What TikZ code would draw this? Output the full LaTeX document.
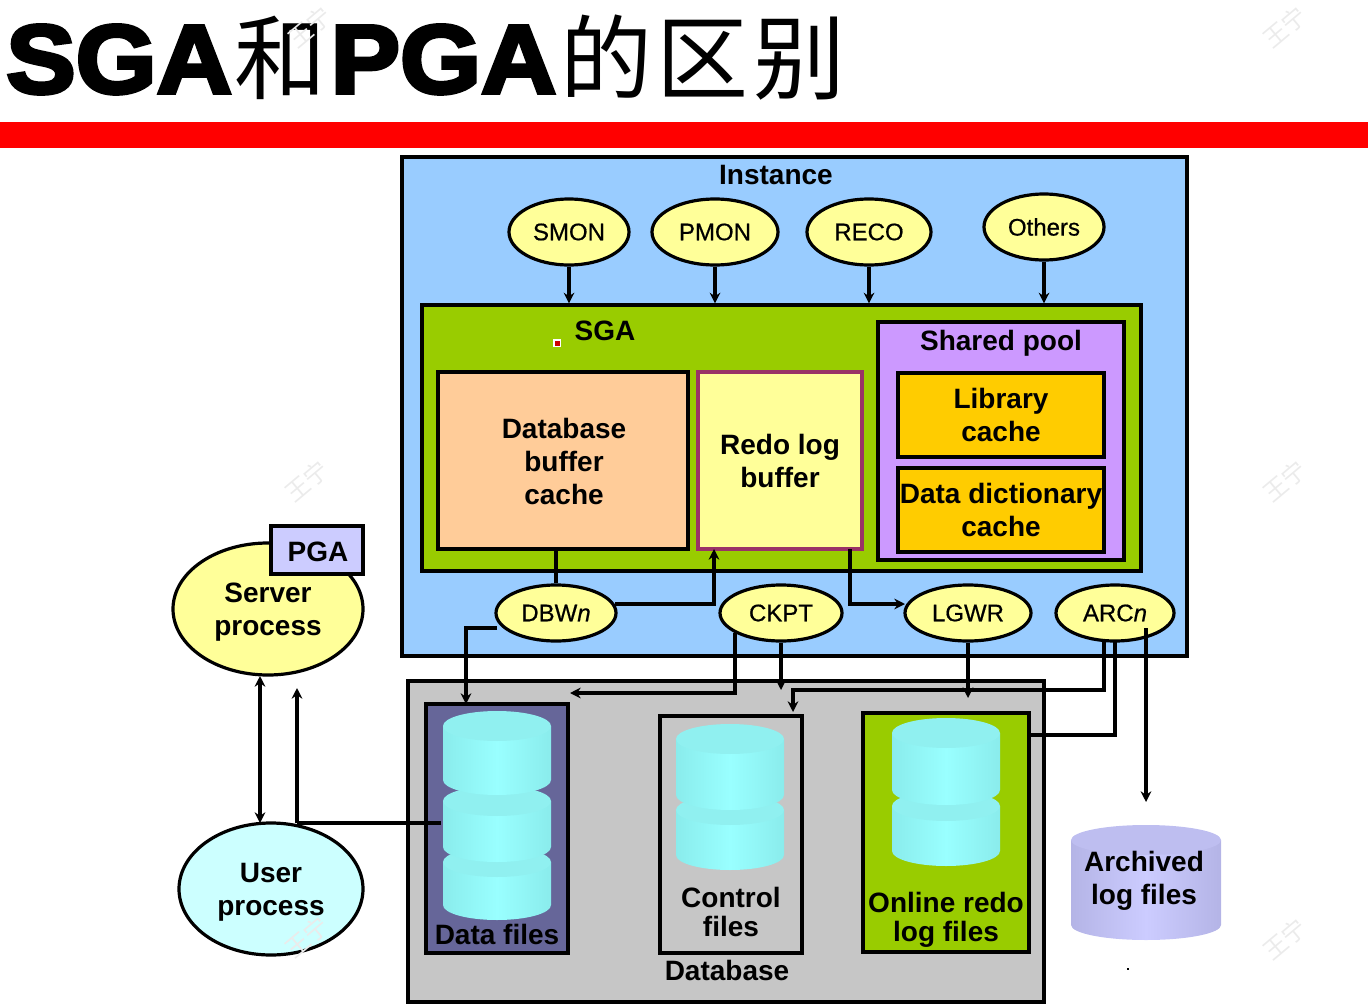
\documentclass[tikz,border=0pt]{standalone}
\usepackage{xcolor}
\usepackage{fontspec}
\usetikzlibrary{arrows.meta,shapes.geometric}
\setmainfont{Liberation Sans}
\newfontfamily\cjk{Noto Sans CJK SC}
\newfontfamily\titlefont{Liberation Sans}[BoldFeatures={FakeBold=4,FakeStretch=1.07}]
\newfontfamily\procfont{Liberation Sans}[FakeBold=0.6]

\definecolor{instblue}{HTML}{99CCFF}
\definecolor{sgagreen}{HTML}{99CC00}
\definecolor{poolviolet}{HTML}{CC99FF}
\definecolor{cacheorange}{HTML}{FFCC00}
\definecolor{bufpeach}{HTML}{FFCC99}
\definecolor{procyellow}{HTML}{FFFF99}
\definecolor{filegrey}{HTML}{C6C6C6}
\definecolor{dataslate}{HTML}{666699}
\definecolor{pgalilac}{HTML}{CCCCFF}
\definecolor{userteal}{HTML}{CCFFFF}
\definecolor{redoedge}{HTML}{993366}
\definecolor{drumlight}{HTML}{99FFFF}
\definecolor{drumedge}{HTML}{8AECEC}
\definecolor{drumtop}{HTML}{90F0F0}
\definecolor{archlight}{HTML}{CCCCFF}
\definecolor{archedge}{HTML}{B4B4E6}
\definecolor{archtop}{HTML}{BEBEF0}

\tikzset{
  panel/.style 2 args={draw=black,line width=2.4pt,rectangle,inner sep=0pt,align=center,
    minimum width=#1*0.75pt,minimum height=#2*0.75pt,font=\bfseries\fontsize{21}{24.75}\selectfont},
  proc/.style 2 args={draw=black,line width=2.4pt,ellipse,inner sep=0pt,align=center,fill=procyellow,
    minimum width=#1*0.75pt,minimum height=#2*0.75pt,font=\procfont\fontsize{18}{22}\selectfont},
  caption/.style={inner sep=0pt,align=center,font=\bfseries\fontsize{21}{24.75}\selectfont},
  tightcaption/.style={caption,font=\bfseries\fontsize{21}{21.5}\selectfont},
  link/.style={draw=black,line width=2.6pt},
  flow/.style={link,-{Stealth[length=8pt,width=8pt]}},
  twoflow/.style={link,{Stealth[length=8pt,width=8pt]}-{Stealth[length=8pt,width=8pt]}}
}

% one drum of a cylinder: centre x, top y, bottom y, half width, colours
\newcommand{\drum}[7]{
  \shade [left color=#6,right color=#6,middle color=#5] (#1-#4,#2) -- (#1-#4,#3) arc [start angle=180,end angle=0,x radius=#4,y radius=15] -- (#1+#4,#2) -- cycle ;
  \fill [#7] (#1,#2) ellipse [x radius=#4,y radius=15] ;
}
\newcommand{\tealdrum}[3]{\drum{#1}{#2}{#3}{54}{drumlight}{drumedge}{drumtop}}

\begin{document}
\begin{tikzpicture}[x=0.75pt,y=0.75pt,yscale=-1,xscale=1]
\useasboundingbox (0,0) rectangle (1368,1006);

% Title
\node (title) [anchor=west,inner sep=0pt] at (6,58) {\titlefont\bfseries\fontsize{73}{80}\selectfont SGA\hspace{2pt}{\cjk\mdseries\fontsize{69}{80}\selectfont 和}\hspace{3pt}PGA\hspace{3pt}{\cjk\mdseries\fontsize{69}{80}\selectfont 的\hspace{3.5pt}区\hspace{3.5pt}别}};
\fill [red] (0,122) rectangle (1368,148);

% Instance
\node (instance) [panel={785}{499},fill=instblue] at (794.5,406.5) {};
\node (instlabel) [caption] at (776,175) {Instance};
\node (sga) [panel={719}{266},fill=sgagreen] at (781.5,438) {};
\node (sgalabel) [caption] at (605,331) {SGA};
\node (buffer) [panel={250}{177},fill=bufpeach] at (563,460.5) {};
\node (buffertext) [caption] at (564,461.5) {Database\\buffer\\cache};
\node (redo) [panel={164}{177},fill=procyellow,draw=redoedge] at (780,460.5) {Redo log\\buffer};
\node (pool) [panel={246}{238},fill=poolviolet] at (1001,441) {};
\node (poollabel) [caption] at (1001,343) {Shared pool};
\node (library) [panel={206}{84},fill=cacheorange] at (1001,415) {Library\\cache};
\node (dictionary) [panel={206}{84},fill=cacheorange] at (1001,510) {Data dictionary\\cache};

% Background processes
\node (smon) [proc={120}{66}] at (569,232) {SMON};
\node (pmon) [proc={126}{66}] at (715,232) {PMON};
\node (reco) [proc={124}{66}] at (869,232) {RECO};
\node (others) [proc={120}{66}] at (1044,227) {Others};
\node (dbwn) [proc={120}{56}] at (556,613) {DBW\textit{n}};
\node (ckpt) [proc={122}{56}] at (781,613) {CKPT};
\node (lgwr) [proc={126}{56}] at (968,613) {LGWR};
\node (arcn) [proc={118}{56}] at (1115,613) {ARC\textit{n}};

% Server and user
\node (server) [proc={190}{132}] at (268,609) {};
\node (servertext) [caption] at (268,612.5) {Server\\process};
\node (pgabox) [panel={92}{48},fill=pgalilac] at (317,550) {};
\node (pgatext) [caption] at (318,551.5) {PGA};
\node (user) [proc={184}{132},fill=userteal] at (271,889) {};
\node (usertext) [caption] at (271,892.5) {User\\process};

% Database
\node (database) [panel={636}{321},fill=filegrey] at (726,841.5) {};
\node (dblabel) [caption] at (727,970) {Database};
\node (datafiles) [panel={142}{249},fill=dataslate] at (497,828.5) {};
\node (control) [panel={142}{237},fill=filegrey] at (731,834.5) {};
\node (online) [panel={166}{239},fill=sgagreen] at (946,832.5) {};
\tealdrum{497}{862}{905}
\tealdrum{497}{801}{847}
\tealdrum{497}{726}{780}
\tealdrum{730}{810}{855}
\tealdrum{730}{739}{795}
\tealdrum{946}{806}{851}
\tealdrum{946}{733}{790}
\node (datalabel) [caption] at (497,934) {Data files};
\node (controllabel) [tightcaption] at (731,912) {Control\\files};
\node (onlinelabel) [tightcaption] at (946,920) {Online redo\\log files};

% Archived files
\drum{1146}{840}{925}{75}{archlight}{archedge}{archtop}
\node (archived) [caption] at (1144,881) {Archived\\log files};

% Free ends
\coordinate (redoin) at (714,549);
\coordinate (redoout) at (850,549);
\coordinate (dbwnout) at (615,604);
\coordinate (dbwnlow) at (497,628);
\coordinate (lgwrin) at (905,604);
\coordinate (ckptleft) at (735,633);
\coordinate (datatop) at (466,704);
\coordinate (dataleft) at (570,693);
\coordinate (ckptdown) at (781,690);
\coordinate (lgwrdown) at (968,698);
\coordinate (arcleft) at (1104,640);
\coordinate (arcbend) at (1104,690);
\coordinate (arcmid) at (1115,640);
\coordinate (arcright) at (1146,628);
\coordinate (arcend) at (1146,802);
\coordinate (controltop) at (793,712);
\coordinate (onlineright) at (1029,735);
\coordinate (serverlow) at (260,676);
\coordinate (userhigh) at (260,823);
\coordinate (userhook) at (297,823);
\coordinate (userup) at (297,688);
\coordinate (drumleft) at (441,823);

% Connectors
\draw [flow] (smon.south) -- (smon.south |- sga.north);
\draw [flow] (pmon.south) -- (pmon.south |- sga.north);
\draw [flow] (reco.south) -- (reco.south |- sga.north);
\draw [flow] (others.south) -- (others.south |- sga.north);
\draw [link] (dbwn.north) -- (dbwn.north |- buffer.south);
\draw [flow] (dbwnout) -| (redoin);
\draw [flow] (redoout) |- (lgwrin);
\draw [flow] (dbwnlow) -| (datatop);
\draw [flow] (ckptleft) |- (dataleft);
\draw [flow] (ckpt.south) -- (ckptdown);
\draw [flow] (lgwr.south) -- (lgwrdown);
\draw [flow] (arcleft) -- (arcbend) -| (controltop);
\draw [link] (arcmid) |- (onlineright);
\draw [flow] (arcright) -- (arcend);
\draw [twoflow] (serverlow) -- (userhigh);
\draw [flow] (userhook) -- (userup);
\draw [link] (userhook) -- (drumleft);

% Marks
\fill [white] (553,339) rectangle (561,347);
\fill [red!80!black] (554.5,340.5) rectangle (559.5,345.5);
\fill [black] (1127,968) rectangle (1129,970);
\foreach \wx/\wy [count=\wi] in {310/27,1285/27,307/481,1285/481,307/937,1285/939}
  \node (wm\wi) [rotate=40,text=black!8,font=\cjk\fontsize{18}{18}\selectfont,inner sep=0pt] at (\wx,\wy) {王宁};
\end{tikzpicture}
\end{document}
